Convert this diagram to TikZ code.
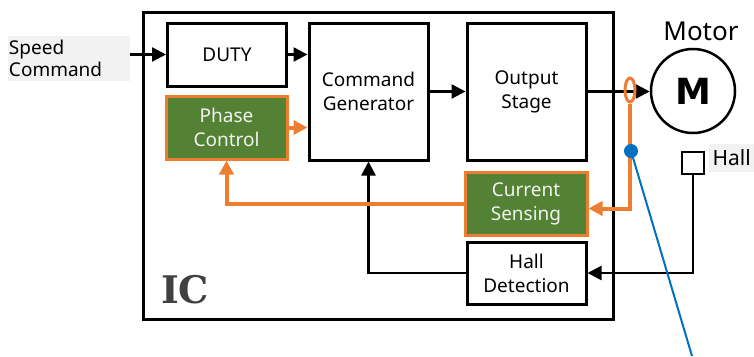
\documentclass[tikz,border=0pt]{standalone}
\usepackage{fontspec}
\setmainfont{Noto Sans}
\newfontfamily\icfont{DejaVu Serif}
\newfontfamily\motorfont{DejaVu Sans}
\usetikzlibrary{arrows.meta,shapes.geometric}
\definecolor{fbgreen}{HTML}{548235}
\definecolor{fborange}{HTML}{ED7D31}
\definecolor{probeblue}{HTML}{0070C0}
\definecolor{lblgray}{HTML}{F2F2F2}
\definecolor{icgray}{HTML}{404040}
\tikzset{
	blk/.style={draw, line width=3pt, minimum width=119pt, minimum height=63pt,
		inner sep=0pt, align=center, font=\fontsize{19}{24}\selectfont},
	grnblk/.style={blk, draw=fborange, fill=fbgreen, text=lblgray},
	sig/.style={line width=2.5pt, -{Triangle[length=14pt,width=14pt]}},
	fb/.style={line width=4pt, draw=fborange,
		-{Triangle[length=14pt,width=14pt]}},
	lbl/.style={fill=lblgray, font=\fontsize{19}{22}\selectfont, inner sep=1pt}
}
\begin{document}
\begin{tikzpicture}[x=1pt, y=-1pt]
	\useasboundingbox (0,0) rectangle (754,356);
	% IC Rahmen
	\draw[line width=3pt] (143,12) rectangle (613,319);
	\node[font=\icfont\bfseries\fontsize{38}{38}\selectfont, text=icgray,
		anchor=base west, inner sep=0pt] (iclbl) at (161,303) {IC};

	% Bloecke
	\node[blk] (duty) at (227,54.5) {DUTY};
	\node[blk, minimum height=137pt] (cmdgen) at (368.5,91.5) {Command\\Generator};
	\node[blk, minimum height=137pt] (outstage) at (526.5,91.5) {Output\\Stage};
	\node[grnblk, minimum width=121pt] (phase) at (226.5,127.5) {Phase\\Control};
	\node[grnblk, minimum width=122pt] (cursense) at (526,203.5) {Current\\Sensing};
	\node[blk, minimum height=62pt] (halldet) at (526.5,273) {Hall\\Detection};

	% Motor und Hallsensor
	\node[circle, draw, line width=2.5pt, minimum size=84pt, inner sep=0pt,
		font=\motorfont\bfseries\fontsize{36}{36}\selectfont] (motor) at (693,91) {M};
	\node[font=\fontsize{26}{26}\selectfont, anchor=base, inner sep=0pt]
		(motorlbl) at (701,40) {Motor};
	\node[draw, line width=2.5pt, minimum size=22pt, inner sep=0pt]
		(hallsen) at (693,163) {};
	\node[lbl, font=\fontsize{21}{22}\selectfont, minimum width=45pt,
		minimum height=28pt, anchor=west] (halllbl) at (709,158) {Hall};

	% Eingang
	\node[lbl, text width=120pt, minimum height=45pt, align=left]
		(speed) at (69,58.5) {Speed\\Command};

	% Signalpfade
	\draw[sig] (speed.east |- duty.west) -- (duty.west);
	\draw[sig] (duty.east) -- (duty.east -| cmdgen.west);
	\draw[sig] (cmdgen.east) -- (outstage.west);
	\draw[sig] (outstage.east) -- (outstage.east -| motor.west);
	\draw[sig] (hallsen.south) |- (halldet.east);
	\draw[sig] (halldet.west) -| (cmdgen.south);

	% Strommessung
	\node[ellipse, draw=fborange, line width=3pt, minimum width=10pt,
		minimum height=24pt, inner sep=0pt] (ct) at (630,90) {};
	\draw[fb] (ct.south) |- ([yshift=-5pt]cursense.east);
	\draw[fb] (cursense.west) -| (phase.south);
	\draw[fb] (phase.east) -- (phase.east -| cmdgen.west);

	% Messpunkt
	\coordinate (probe) at (631,151);
	\coordinate (probeend) at (692,356);
	\draw[probeblue, line width=2pt] (probe) -- (probeend);
	\fill[probeblue] (probe) circle (7pt);
\end{tikzpicture}
\end{document}
